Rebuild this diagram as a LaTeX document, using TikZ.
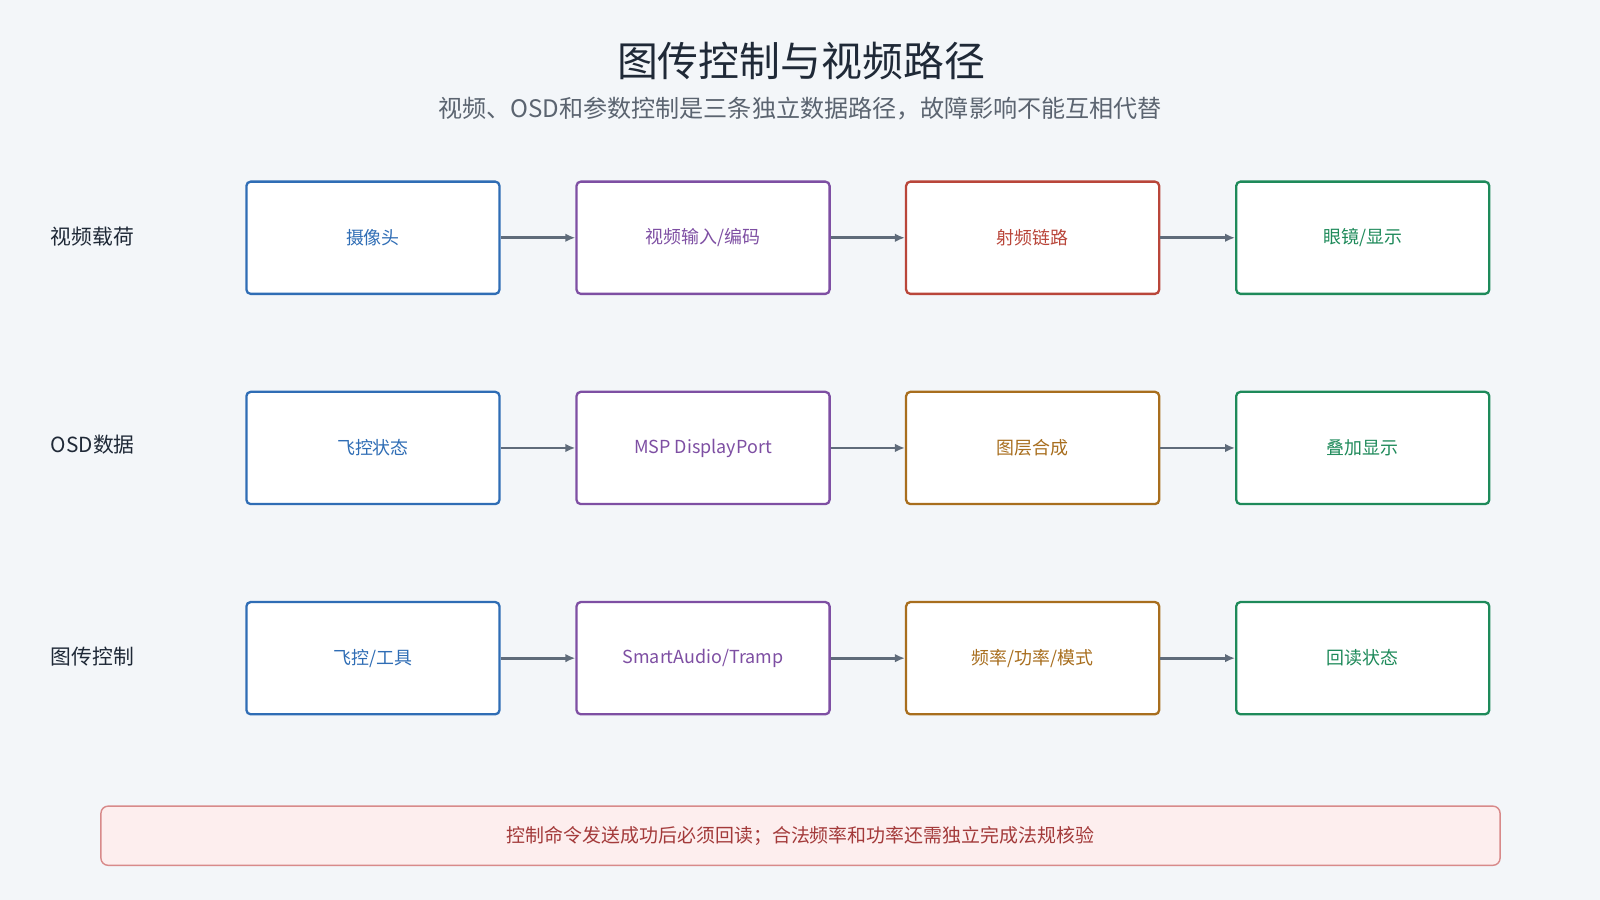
\documentclass[tikz,border=0pt]{standalone}
\usepackage{fontspec}
\usetikzlibrary{arrows.meta}
\setmainfont{Noto Sans CJK SC}
\definecolor{bg}{HTML}{F3F6F9}
\definecolor{cblue}{HTML}{2F6DB5}
\definecolor{cpurple}{HTML}{7E4FA3}
\definecolor{cred}{HTML}{B9463A}
\definecolor{corange}{HTML}{A86E1E}
\definecolor{cgreen}{HTML}{1E8A5A}
\definecolor{carrow}{HTML}{5F6B7A}
\definecolor{ctitle}{HTML}{1F2937}
\definecolor{csub}{HTML}{5B6470}
\definecolor{notefill}{HTML}{FDEEEE}
\definecolor{notedraw}{HTML}{D88A8A}
\definecolor{notetext}{HTML}{A33A3A}
\begin{document}
\begin{tikzpicture}[x=0.025cm,y=-0.025cm]
\tikzset{
  stage/.style={draw=#1, text=#1, fill=white, line width=1.6pt, rounded corners=3pt,
    minimum width=6.2cm, minimum height=2.75cm, font=\fontsize{12.5}{14}\selectfont},
  rowlabel/.style={anchor=west, text=ctitle, font=\fontsize{14.5}{16}\selectfont},
  flow/.style={draw=carrow, line width=2pt, -{Latex[length=7pt,width=6pt]}},
}
\fill[bg] (0,0) rectangle (1568,882);

% Title
\node[text=ctitle, font=\fontsize{28.5}{32}\selectfont] (title) at (785,60) {图传控制与视频路径};
\node[text=csub, font=\fontsize{16.8}{19}\selectfont] (subtitle) at (784,106) {视频、OSD和参数控制是三条独立数据路径，故障影响不能互相代替};

% Row labels
\node[rowlabel] (lvideo) at (45,232) {视频载荷};
\node[rowlabel] (losd) at (45,436) {OSD数据};
\node[rowlabel] (lctrl) at (45,643) {图传控制};

% Row 1
\node[stage=cblue] (cam) at (365.5,233) {摄像头};
\node[stage=cpurple] (enc) at (689,233) {视频输入/编码};
\node[stage=cred] (rf) at (1012,233) {射频链路};
\node[stage=cgreen] (goggle) at (1335.5,233) {眼镜/显示};

% Row 2
\node[stage=cblue] (fcstate) at (365.5,439) {飞控状态};
\node[stage=cpurple] (msp) at (689,439) {MSP DisplayPort};
\node[stage=corange] (layer) at (1012,439) {图层合成};
\node[stage=cgreen] (overlay) at (1335.5,439) {叠加显示};

% Row 3
\node[stage=cblue] (fctool) at (365.5,645) {飞控/工具};
\node[stage=cpurple] (sa) at (689,645) {SmartAudio/Tramp};
\node[stage=corange] (freq) at (1012,645) {频率/功率/模式};
\node[stage=cgreen] (readback) at (1335.5,645) {回读状态};

% Arrows
\draw[flow] (cam) -- (enc);
\draw[flow] (enc) -- (rf);
\draw[flow] (rf) -- (goggle);
\draw[flow] (fcstate) -- (msp);
\draw[flow] (msp) -- (layer);
\draw[flow] (layer) -- (overlay);
\draw[flow] (fctool) -- (sa);
\draw[flow] (sa) -- (freq);
\draw[flow] (freq) -- (readback);

% Note
\node[draw=notedraw, fill=notefill, text=notetext, line width=1pt, rounded corners=5pt,
  minimum width=34.27cm, minimum height=1.45cm, font=\fontsize{13.2}{15}\selectfont] (note) at (784.5,819)
  {控制命令发送成功后必须回读；合法频率和功率还需独立完成法规核验};
\end{tikzpicture}
\end{document}
